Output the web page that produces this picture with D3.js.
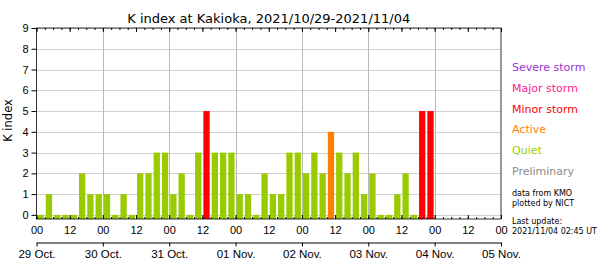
<!DOCTYPE html>
<html>
<head>
<meta charset="utf-8">
<script src="https://cdn.jsdelivr.net/npm/d3@7"></script>
<style>
    body { margin: 0; background: #fff; }
    svg { font-family: 'DejaVu Sans', sans-serif; }
    .axis path, .axis line { stroke: #000; }
    .axis text { fill: #000; }
</style>
</head>
<body>
<div class="graph"></div>
<script>
// K index per 3-hour interval, starting 2021-10-29 00 UT
var kValues = [
    0, 1, 0, 0, 0, 2, 1, 1,   // 29 Oct
    1, 0, 1, 0, 2, 2, 3, 3,   // 30 Oct
    1, 2, 0, 3, 5, 3, 3, 3,   // 31 Oct
    1, 1, 0, 2, 1, 1, 3, 3,   // 01 Nov
    2, 3, 2, 4, 3, 2, 3, 1,   // 02 Nov
    2, 0, 0, 1, 2, 0, 5, 5    // 03 Nov
];
var dayLabels = ['29 Oct.', '30 Oct.', '31 Oct.', '01 Nov.', '02 Nov.', '03 Nov.', '04 Nov.', '05 Nov.'];
var yTicks = [0, 1, 2, 3, 4, 5, 6, 7, 8, 9];
var legendLabels = ['Severe storm', 'Major storm', 'Minor storm', 'Active', 'Quiet', 'Preliminary'];
var legendColors = ['#9b30d0', '#ff1a8c', '#ff0000', '#ff8000', '#99cc00', '#8c8c8c'];

var startDate = new Date(Date.UTC(2021, 9, 29));
var endDate = new Date(Date.UTC(2021, 10, 5));
var slotMs = 3 * 3600 * 1000;

function kColor(k) {
    if (k >= 7) return legendColors[0];
    if (k === 6) return legendColors[1];
    if (k === 5) return legendColors[2];
    if (k === 4) return legendColors[3];
    return legendColors[4];
}

var plotLeft = 36.5, plotRight = 501, plotTop = 28, plotBottom = 219;

var svg = d3.select('.graph')
    .append('svg')
    .attr('width', 600)
    .attr('height', 262);

var xScale = d3.scaleUtc()
    .domain([startDate, endDate])
    .range([plotLeft, plotRight]);

var yScale = d3.scaleLinear()
    .domain([-0.2, 9])
    .range([plotBottom, plotTop]);

var hourTicks = d3.utcHour.every(12).range(startDate, new Date(+endDate + 1));
var minorTicks = d3.utcHour.every(3).range(startDate, new Date(+endDate + 1));
var dayTicks = d3.utcDay.range(startDate, new Date(+endDate + 1));

// grid
svg.append('g')
    .selectAll('line')
    .data(yTicks)
    .enter()
    .append('line')
    .attr('x1', plotLeft)
    .attr('x2', plotRight)
    .attr('y1', function (d) { return Math.round(yScale(d)) + 0.5; })
    .attr('y2', function (d) { return Math.round(yScale(d)) + 0.5; })
    .attr('stroke', '#d0d0d0');

svg.append('g')
    .selectAll('line')
    .data(dayTicks.slice(1, -1))
    .enter()
    .append('line')
    .attr('x1', function (d) { return Math.round(xScale(d)) + 0.5; })
    .attr('x2', function (d) { return Math.round(xScale(d)) + 0.5; })
    .attr('y1', plotTop)
    .attr('y2', plotBottom)
    .attr('stroke', '#b8b8b8');

// bars
var slotWidth = xScale(new Date(+startDate + slotMs)) - xScale(startDate);
var barWidth = slotWidth * 0.76;

svg.append('g')
    .selectAll('rect')
    .data(kValues)
    .enter()
    .append('rect')
    .attr('x', function (d, i) {
        return xScale(new Date(+startDate + i * slotMs)) + (slotWidth - barWidth) / 2;
    })
    .attr('y', function (d) { return yScale(d); })
    .attr('width', barWidth)
    .attr('height', function (d) { return yScale(-0.2) - yScale(d); })
    .attr('fill', function (d) { return kColor(d); });

// frame
svg.append('rect')
    .attr('x', plotLeft)
    .attr('y', plotTop)
    .attr('width', plotRight - plotLeft)
    .attr('height', plotBottom - plotTop)
    .attr('fill', 'none')
    .attr('stroke', '#000')
    .attr('stroke-width', 0.8);

// y axis
var yAxis = d3.axisLeft(yScale)
    .tickValues(yTicks)
    .tickSize(5)
    .tickPadding(3);

svg.append('g')
    .attr('class', 'axis')
    .attr('transform', 'translate(' + plotLeft + ',0)')
    .call(yAxis)
    .call(function (g) { g.select('.domain').remove(); })
    .selectAll('text')
    .style('font-size', '11px');

// bottom hour axis
var xAxis = d3.axisBottom(xScale)
    .tickValues(hourTicks)
    .tickFormat(d3.utcFormat('%H'))
    .tickSize(-4)
    .tickPadding(7);

svg.append('g')
    .attr('class', 'axis')
    .attr('transform', 'translate(0,' + plotBottom + ')')
    .call(xAxis)
    .call(function (g) { g.select('.domain').remove(); })
    .selectAll('text')
    .style('font-size', '11px');

svg.append('g')
    .attr('class', 'axis')
    .attr('transform', 'translate(0,' + plotBottom + ')')
    .call(d3.axisBottom(xScale).tickValues(minorTicks).tickSize(-2).tickFormat(''))
    .call(function (g) { g.select('.domain').remove(); });

// top axis ticks
svg.append('g')
    .attr('class', 'axis')
    .attr('transform', 'translate(0,' + plotTop + ')')
    .call(d3.axisTop(xScale).tickValues(hourTicks).tickSize(-4).tickFormat(''))
    .call(function (g) { g.select('.domain').remove(); });

svg.append('g')
    .attr('class', 'axis')
    .attr('transform', 'translate(0,' + plotTop + ')')
    .call(d3.axisTop(xScale).tickValues(minorTicks).tickSize(-2).tickFormat(''))
    .call(function (g) { g.select('.domain').remove(); });

// day axis
var dayAxis = d3.axisBottom(xScale)
    .tickValues(dayTicks)
    .tickFormat(function (d, i) { return dayLabels[i]; })
    .tickSizeInner(4)
    .tickSizeOuter(0)
    .tickPadding(3);

svg.append('g')
    .attr('class', 'axis')
    .attr('transform', 'translate(0,242.5)')
    .call(dayAxis)
    .selectAll('text')
    .style('font-size', '11.5px');

// title
svg.append('text')
    .attr('x', (plotLeft + plotRight) / 2)
    .attr('y', 23)
    .attr('text-anchor', 'middle')
    .style('font-size', '13px')
    .text('K index at Kakioka, 2021/10/29-2021/11/04');

svg.append('text')
    .attr('transform', 'translate(12,' + ((plotTop + plotBottom) / 2 - 3) + ') rotate(-90)')
    .attr('text-anchor', 'middle')
    .style('font-size', '11.5px')
    .text('K index');

// legend
var legendY = [71, 92, 113, 133, 154, 175];
svg.append('g')
    .selectAll('text')
    .data(legendLabels)
    .enter()
    .append('text')
    .attr('x', 512)
    .attr('y', function (d, i) { return legendY[i]; })
    .attr('fill', function (d, i) { return legendColors[i]; })
    .style('font-size', '11px')
    .text(function (d) { return d; });

var notes = [['data from KMO', 196], ['plotted by NICT', 205.5], ['Last update:', 224], ['2021/11/04 02:45 UT', 233.5]];
svg.append('g')
    .selectAll('text')
    .data(notes)
    .enter()
    .append('text')
    .attr('x', 512)
    .attr('y', function (d) { return d[1]; })
    .style('font-size', '8px')
    .text(function (d) { return d[0]; });
</script>
</body>
</html>
